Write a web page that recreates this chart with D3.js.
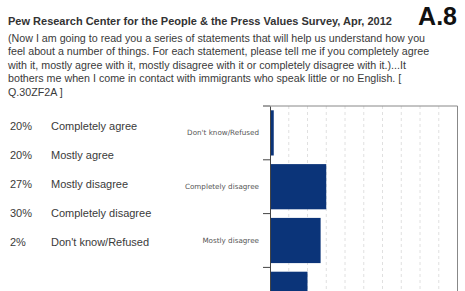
<!DOCTYPE html>
<html><head><meta charset="utf-8">
<script src="https://cdn.jsdelivr.net/npm/d3@7"></script>
<style>
html,body{margin:0;padding:0;background:#fff;overflow:hidden;}
svg{display:block;font-family:"Liberation Sans",Arial,sans-serif;}
</style></head>
<body>
<script>
const title = "Pew Research Center for the People & the Press Values Survey, Apr, 2012";
const badge = "A.8";
const questionLines = [
  "(Now I am going to read you a series of statements that will help us understand how you",
  "feel about a number of things. For each statement, please tell me if you completely agree",
  "with it, mostly agree with it, mostly disagree with it or completely disagree with it.)...It",
  "bothers me when I come in contact with immigrants who speak little or no English. [",
  "Q.30ZF2A ]"
];
const listLabels = ["Completely agree","Mostly agree","Mostly disagree","Completely disagree","Don't know/Refused"];
const listValues = [20,20,27,30,2];
const chartCategories = ["Don't know/Refused","Completely disagree","Mostly disagree","Mostly agree","Completely agree"];
const chartValues = [2,30,27,20,20];
const gridTicks = [10,20,30,40,50,60,70,80,90];

const W = 465, H = 291;
const svg = d3.select("body").append("svg").attr("width", W).attr("height", H);

svg.append("text").attr("x", 8).attr("y", 25)
  .attr("font-size", 11).attr("font-weight", "bold").attr("fill", "#333").text(title);
svg.append("text").attr("x", 457).attr("y", 24.5).attr("text-anchor","end")
  .attr("font-size", 25).attr("font-weight", "bold").attr("fill", "#111").text(badge);

svg.append("g").selectAll("text").data(questionLines).join("text")
  .attr("x", 8).attr("y", (d,i) => 42 + i*13.4)
  .attr("font-size", 10.7).attr("fill", "#3a3a3a").text(d => d);

const rowY = d3.scalePoint().domain(listLabels).range([130, 246]);
const list = svg.append("g");
list.selectAll("text.pct").data(listLabels).join("text").attr("class","pct")
  .attr("x", 10).attr("y", d => rowY(d)).attr("font-size", 11).attr("fill","#3a3a3a")
  .text((d,i) => listValues[i] + "%");
list.selectAll("text.lab").data(listLabels).join("text").attr("class","lab")
  .attr("x", 51).attr("y", d => rowY(d)).attr("font-size", 11).attr("fill","#3a3a3a")
  .text(d => d);

const x = d3.scaleLinear().domain([0,100]).range([270, 457.5]);
const y = d3.scaleBand().domain(chartCategories).range([106, 106 + 5*53.8]).paddingInner(0.16).paddingOuter(0.08);

const g = svg.append("g");
g.selectAll("line.grid").data(gridTicks).join("line").attr("class","grid")
  .attr("x1", d => x(d)).attr("x2", d => x(d)).attr("y1", 106).attr("y2", 106 + 5*53.8)
  .attr("stroke", "#d8d8d8").attr("stroke-width", 0.8).attr("stroke-dasharray", "3,3");

g.append("line").attr("x1", x(0)).attr("x2", x(100)).attr("y1", 106).attr("y2", 106)
  .attr("stroke", "#888").attr("stroke-width", 1);
g.append("line").attr("x1", x(100)).attr("x2", x(100)).attr("y1", 106).attr("y2", 106 + 5*53.8)
  .attr("stroke", "#888").attr("stroke-width", 1);

g.selectAll("rect").data(chartCategories).join("rect")
  .attr("x", x(0)).attr("y", d => y(d))
  .attr("width", (d,i) => x(chartValues[i]) - x(0)).attr("height", y.bandwidth())
  .attr("fill", "#0b3479");

const yAxis = d3.axisLeft(y).tickSize(0).tickPadding(11);
const ax = g.append("g").attr("transform", `translate(${x(0)},0)`).call(yAxis);
ax.select(".domain").attr("stroke", "#444").attr("stroke-width", 1);
ax.selectAll("text").attr("font-size", 7.2).attr("fill", "#555").attr("font-family", "DejaVu Sans, sans-serif");
g.selectAll("line.sep").data(d3.range(6)).join("line").attr("class","sep")
  .attr("x1", x(0) - 7).attr("x2", x(0)).attr("y1", d => 106 + d*53.8).attr("y2", d => 106 + d*53.8)
  .attr("stroke", "#444").attr("stroke-width", 1);
</script>
</body></html>
